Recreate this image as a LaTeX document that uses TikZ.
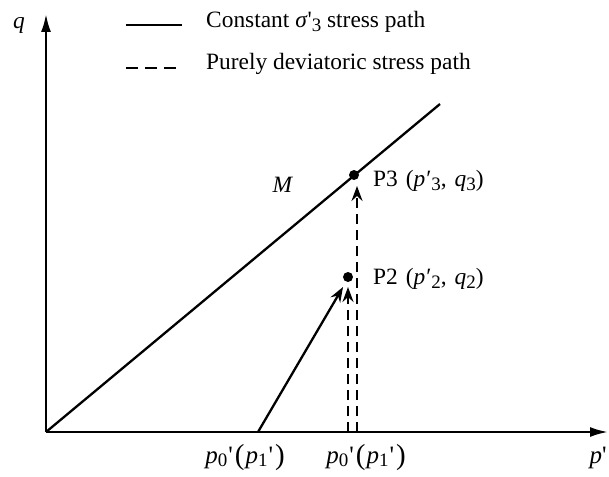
\documentclass[tikz,border=0pt]{standalone}
\usepackage{fontspec}
\setmainfont{Liberation Serif}
\usetikzlibrary{arrows.meta}
\newcommand{\sbx}[1]{\raisebox{-3.5pt}{\fontsize{19}{22}\selectfont #1}}
\newcommand{\bigpar}[1]{\raisebox{-1.5pt}{\fontsize{29}{32}\selectfont #1}}
\begin{document}
\begin{tikzpicture}[x=1pt,y=-1pt,
  font=\fontsize{23.4}{28}\selectfont,
  axis/.style={line width=2.3pt,-{Latex[length=18pt,width=10pt]}},
  pathline/.style={line width=2.3pt},
  patharrow/.style={line width=2.3pt,-{Stealth[length=15pt,width=11pt,inset=5pt]}},
  dashline/.style={line width=2.3pt,dash pattern=on 10pt off 6pt},
  dot/.style={circle,fill=black,inner sep=0pt,minimum size=10pt},
  lbl/.style={inner sep=0pt}]
\useasboundingbox (0,0) rectangle (609,476);
% axes
\coordinate (O) at (46,432);
\coordinate (Ytop) at (46,14);
\coordinate (Xend) at (608,432);
\draw[axis] (O) -- (Ytop);
\draw[axis] (O) -- (Xend);
% M line
\coordinate (Mend) at (440,104);
\draw[pathline] (O) -- (Mend);
% points
\node[dot] (P3) at (354,175) {};
\node[dot] (P2) at (348,277) {};
% stress paths
\coordinate (A1) at (258,432);
\coordinate (A1tip) at (343,287);
\draw[patharrow] (A1) -- (A1tip);
\coordinate (B1) at (348,432);
\coordinate (B1tip) at (348,287);
\draw[dashline,-{Stealth[length=15pt,width=11pt,inset=5pt]}] (B1) -- (B1tip);
\coordinate (B2) at (357,432);
\coordinate (B2tip) at (357,186);
\draw[dashline,-{Stealth[length=15pt,width=11pt,inset=5pt]}] (B2) -- (B2tip);
% labels
\node[lbl] (qlab) at (19,25) {\textit{q}};
\node[lbl] (plab) at (598,458) {\fontsize{25}{28}\selectfont\textit{p}\textquotesingle};
\node[lbl] (Mlab) at (283,185) {\textit{M}};
\node[lbl,anchor=west] (P3lab) at (373,181) {P3\kern2pt{} (\textit{p}\kern1pt′\sbx{3},\kern2pt{} \textit{q}\sbx{3})};
\node[lbl,anchor=west] (P2lab) at (373,279) {P2\kern2pt{} (\textit{p}\kern1pt′\sbx{2},\kern2pt{} \textit{q}\sbx{2})};
\node[lbl] (x1lab) at (245,458) {\fontsize{25}{28}\selectfont\textit{p}\sbx{0}\kern1pt\textquotesingle\kern2pt\bigpar{(}\kern1pt\textit{p}\sbx{1}\kern1pt\textquotesingle\kern2pt\bigpar{)}};
\node[lbl] (x2lab) at (366,458) {\fontsize{25}{28}\selectfont\textit{p}\sbx{0}\kern1pt\textquotesingle\kern2pt\bigpar{(}\kern1pt\textit{p}\sbx{1}\kern1pt\textquotesingle\kern2pt\bigpar{)}};
% legend
\coordinate (L1a) at (126,25);
\coordinate (L1b) at (182,25);
\draw[pathline] (L1a) -- (L1b);
\coordinate (L2a) at (126,68);
\coordinate (L2b) at (182,68);
\draw[line width=2.3pt,dash pattern=on 12pt off 7pt] (L2a) -- (L2b);
\node[lbl,anchor=west] (leg1) at (206,22) {Constant \textit{σ}\textquotesingle\sbx{3} stress path};
\node[lbl,anchor=west] (leg2) at (206,64) {Purely deviatoric stress path};
\end{tikzpicture}
\end{document}
